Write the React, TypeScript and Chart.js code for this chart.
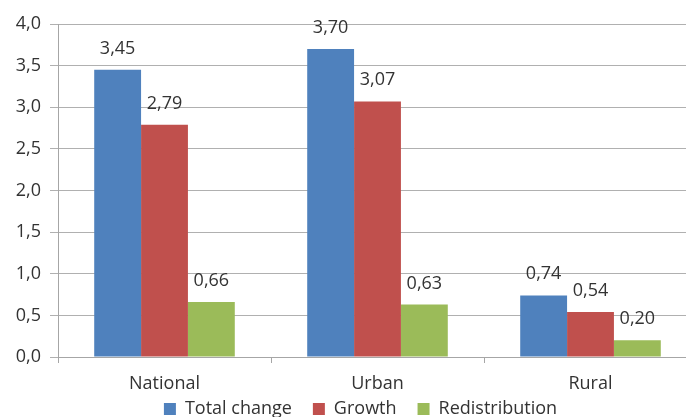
import React, { useEffect, useRef } from "react";
import { Chart, registerables } from "chart.js";

Chart.register(...registerables);

const categories = ["National", "Urban", "Rural"];
const totalChange = [3.45, 3.7, 0.74];
const growth = [2.79, 3.07, 0.54];
const redistribution = [0.66, 0.63, 0.2];
const seriesNames = ["Total change", "Growth", "Redistribution"];
const yTicksMax = 4;
const yTicksStep = 0.5;

const FONT = "'Open Sans', 'Noto Sans', sans-serif";
const TEXT = "#333333";

const dataLabels = {
  id: "dataLabels",
  afterDatasetsDraw(chart: any) {
    const ctx = chart.ctx;
    ctx.save();
    ctx.font = `18px ${FONT}`;
    ctx.fillStyle = TEXT;
    ctx.textAlign = "center";
    ctx.textBaseline = "alphabetic";
    chart.data.datasets.forEach((ds: any, i: number) => {
      const meta = chart.getDatasetMeta(i);
      meta.data.forEach((el: any, j: number) => {
        const v = ds.data[j] as number;
        ctx.fillText(v.toFixed(2).replace(".", ","), el.x, el.y - 16);
      });
    });
    ctx.restore();
  },
};

export default function App() {
  const ref = useRef<HTMLCanvasElement | null>(null);
  useEffect(() => {
    document.body.style.margin = "0";
    const canvas = ref.current!;
    const chart = new Chart(canvas, {
      type: "bar",
      data: {
        labels: categories,
        datasets: [
          { label: seriesNames[0], data: totalChange, backgroundColor: "#4F81BD" },
          { label: seriesNames[1], data: growth, backgroundColor: "#C0504D" },
          { label: seriesNames[2], data: redistribution, backgroundColor: "#9BBB59" },
        ],
      },
      options: {
        responsive: false,
        animation: false,
        layout: { padding: { top: 24, right: 49, bottom: 0, left: 24 } },
        datasets: {
          bar: { categoryPercentage: 0.66, barPercentage: 1.0, borderWidth: 0 },
        },
        scales: {
          x: {
            grid: {
              display: true,
              drawOnChartArea: false,
              drawTicks: true,
              tickLength: 6,
              offset: true,
              color: "#a6a6a6",
            },
            border: { display: true, color: "#a6a6a6" },
            ticks: { color: TEXT, font: { family: FONT, size: 18 }, padding: 10 },
            afterFit(scale: any) {
              scale.height = 22;
              scale._computeLabelArea = () => undefined;
            },
          },
          y: {
            min: 0,
            max: yTicksMax,
            grid: { color: "#b0b0b0", tickLength: 8, drawTicks: true },
            border: { display: true, color: "#a6a6a6" },
            ticks: {
              stepSize: yTicksStep,
              color: TEXT,
              font: { family: FONT, size: 18 },
              padding: 9,
              callback: (v: any) => Number(v).toFixed(1).replace(".", ","),
            },
            afterFit(scale: any) {
              scale.width = 34;
              scale._computeLabelArea = () => undefined;
            },
          },
        },
        plugins: {
          legend: {
            position: "bottom",
            labels: {
              boxWidth: 12,
              boxHeight: 12,
              padding: 21,
              color: TEXT,
              font: { family: FONT, size: 18 },
            },
          },
          tooltip: { enabled: false },
        },
      },
      plugins: [dataLabels],
    });
    return () => chart.destroy();
  }, []);
  return (
    <div
      style={{
        position: "fixed",
        left: 0,
        top: 0,
        width: 686,
        height: 417,
        overflow: "hidden",
        background: "#fff",
      }}
    >
      <canvas ref={ref} width={746} height={428} style={{ display: "block", width: 746, height: 428 }} />
    </div>
  );
}
